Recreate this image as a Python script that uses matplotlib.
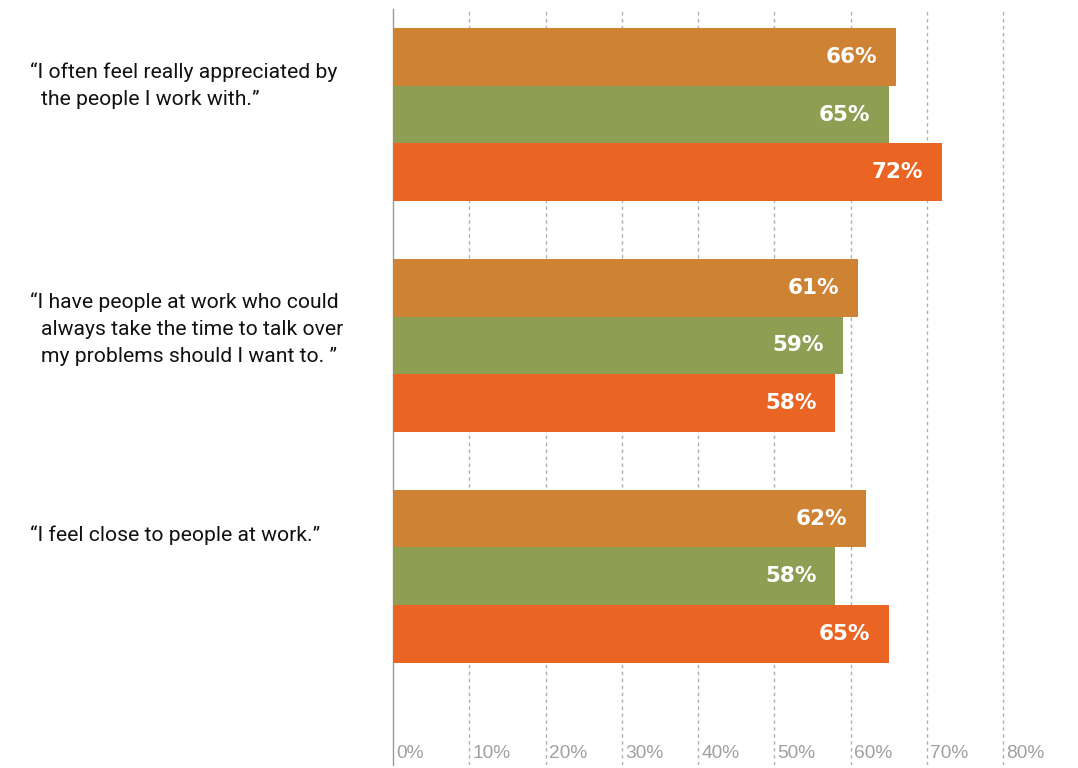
import matplotlib
matplotlib.use("Agg")
import matplotlib.pyplot as plt
from matplotlib.transforms import blended_transform_factory

# Survey statements (each split into its printed lines)
statements = [
    ["\u201cI often feel really appreciated by", "the people I work with.\u201d"],
    ["\u201cI have people at work who could", "always take the time to talk over",
     "my problems should I want to. \u201d"],
    ["\u201cI feel close to people at work.\u201d"],
]

# Percent agreeing, three series per statement
series_a = [66, 61, 62]
series_b = [65, 59, 58]
series_c = [72, 58, 65]
colors = ["#CE8334", "#8E9E52", "#EA6524"]

ticks = [0, 10, 20, 30, 40, 50, 60, 70, 80]
tick_labels = [f"{t}%" for t in ticks]

W, H = 1078, 768
fig = plt.figure(figsize=(W / 100, H / 100), dpi=100)
ax = fig.add_axes([393 / W, 3 / H, 1 - 393 / W, 1 - 12 / H])

group_pos = [0, 4, 8]
offsets = [-1, 0, 1]
for s, (vals, col) in enumerate(zip([series_a, series_b, series_c], colors)):
    ys = [g + offsets[s] for g in group_pos]
    ax.barh(ys, vals, height=1.0, color=col, zorder=3)
    for y, v in zip(ys, vals):
        ax.text(v - 2.5, y, f"{v}%", ha="right", va="center", color="white",
                fontsize=15.5, fontweight="bold", family="DejaVu Sans", zorder=4)

ax.set_xlim(0, 89.8)
ax.set_ylim(11.27, -1.83)

for t in ticks[1:]:
    ax.axvline(t, color="#b0b0b0", lw=1.0, ls=(0, (2.5, 2.5)), zorder=1)

for sp in ["top", "right", "bottom"]:
    ax.spines[sp].set_visible(False)
ax.spines["left"].set_color("#999999")
ax.spines["left"].set_linewidth(1.0)
ax.set_xticks([])
ax.set_yticks([])

trans = blended_transform_factory(ax.transData, ax.transAxes)
for t, lab in zip(ticks, tick_labels):
    ax.text(t + 0.4, 0.015, lab, transform=trans, ha="left", va="center",
            color="#a0a0a0", fontsize=13.8,
            family=["Liberation Sans Narrow", "Liberation Sans", "DejaVu Sans"])

# statement labels, hanging opening quote
first_line_y = [72, 302, 535]
line_gap = 27.5
for lines, y0 in zip(statements, first_line_y):
    for i, line in enumerate(lines):
        x = 30 if i == 0 else 41
        fig.text(x / W, 1 - (y0 + i * line_gap) / H, line, ha="left", va="center",
                 fontsize=15.2, color="#111111", family=["Roboto", "DejaVu Sans"])

fig.savefig("out.png", dpi=100, facecolor="white")
